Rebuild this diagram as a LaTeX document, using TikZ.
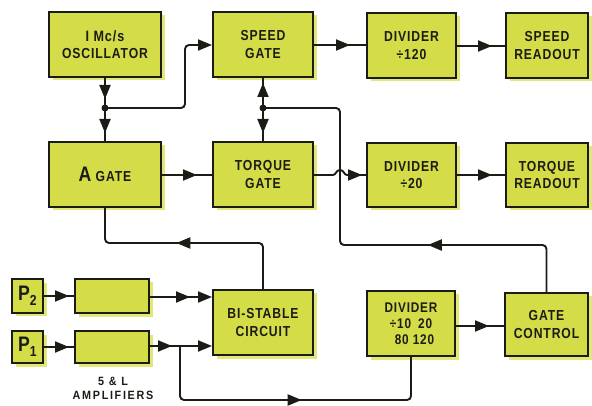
\documentclass[tikz,border=0pt]{standalone}
\usepackage{fontspec}
\setmainfont{Liberation Sans}
\newfontfamily\lblfont{Liberation Sans}[FakeStretch=0.84,LetterSpace=6]
\newfontfamily\ampfont{Liberation Sans}[FakeStretch=0.9,LetterSpace=14]
\usetikzlibrary{shadows,decorations.markings,arrows.meta}
\definecolor{boxcol}{RGB}{212,220,72}
\definecolor{shadcol}{RGB}{226,232,120}
\definecolor{inkcol}{RGB}{28,28,22}
\tikzset{
  blk/.style={draw=inkcol, line width=2pt, fill=boxcol, inner sep=0pt,
    drop shadow={shadow xshift=3.5pt, shadow yshift=-3.5pt, fill=shadcol, opacity=1},
    font=\lblfont\bfseries\fontsize{14.5}{17.5}\selectfont, text=inkcol, align=center},
  wire/.style={draw=inkcol, line width=1.9pt, rounded corners=4pt},
  tipat/.style={postaction={decorate, decoration={markings,
    mark=at position #1 with {\arrow{Triangle[length=14pt,width=11pt]}}}}},
  endtip/.style={-{Triangle[length=14pt,width=11pt]}},
  dot/.style={circle, fill=inkcol, inner sep=0pt, minimum size=7pt}
}
\begin{document}
\begin{tikzpicture}[x=1pt,y=-1pt]
\useasboundingbox (0,0) rectangle (592,406);
% top row
\node[blk, minimum width=112pt, minimum height=65pt] (osc) at (105,44.5) {{\fontsize{15}{17}\selectfont I M\lowercase{c/s}}\\OSCILLATOR};
\node[blk, minimum width=100pt, minimum height=65pt] (speed) at (263,44.5) {SPEED\\GATE};
\node[blk, minimum width=89pt, minimum height=65pt] (div1) at (411.5,45.5) {DIVIDER\\\char"00F7 120};
\node[blk, minimum width=82pt, minimum height=65pt] (sread) at (547,45.5) {SPEED\\READOUT};
% middle row
\node[blk, minimum width=112pt, minimum height=65pt] (agate) at (105,174.5) {{\fontsize{21}{22}\selectfont A} GATE};
\node[blk, minimum width=100pt, minimum height=65pt] (tgate) at (263,174.5) {TORQUE\\GATE};
\node[blk, minimum width=89pt, minimum height=64pt] (div2) at (411.5,175) {DIVIDER\\\char"00F7 20};
\node[blk, minimum width=82pt, minimum height=64pt] (tread) at (547,175) {TORQUE\\READOUT};
% bottom
\node[blk, minimum width=31pt, minimum height=33pt] (p2) at (27.5,296) {{\fontsize{21}{21}\selectfont P}\raisebox{-5pt}{2}};
\node[blk, minimum width=31pt, minimum height=32pt] (p1) at (27.5,347) {{\fontsize{21}{21}\selectfont P}\raisebox{-5pt}{1}};
\node[blk, minimum width=74pt, minimum height=34pt] (amp2) at (112,296) {};
\node[blk, minimum width=74pt, minimum height=32pt] (amp1) at (112,347) {};
\node[blk, minimum width=100pt, minimum height=65pt] (bist) at (263,322.5) {BI-STABLE\\CIRCUIT};
\node[blk, minimum width=88pt, minimum height=65pt, font=\lblfont\bfseries\fontsize{14}{16}\selectfont] (div3) at (411,323.5) {DIVIDER\\\char"00F7 10\enspace 20\\\enspace80 120};
\node[blk, minimum width=83pt, minimum height=63pt] (gctl) at (546.5,324.5) {GATE\\CONTROL};
\node[align=center, font=\ampfont\bfseries\fontsize{12}{14}\selectfont, text=inkcol] (amplbl) at (113,388) {5 \& L\\AMPLIFIERS};
% junctions
\coordinate (j1) at (105,108);
\coordinate (j2) at (263,108);
\coordinate (br) at (180,347);
% connectors
\draw[wire, tipat=21pt] (osc.south) -- (j1);
\draw[wire, tipat=25pt] (j1) -- (agate.north);
\draw[wire, endtip] (j1) -- (185,108) -- (185,45) -- (speed.west |- 0,45);
\draw[wire, tipat=25pt] (j2) -- (speed.south);
\draw[wire, tipat=25pt] (j2) -- (tgate.north);
\draw[wire, tipat=36pt] (speed.east |- 0,45) -- (div1.west |- 0,45);
\draw[wire, tipat=35pt] (div1.east |- 0,46) -- (sread.west |- 0,46);
\draw[wire, tipat=35pt] (agate.east |- 0,175) -- (tgate.west |- 0,175);
\draw[wire, rounded corners=0pt, tipat=0.93] (tgate.east |- 0,175) -- (333,175) .. controls (336,175) and (336,170) .. (340,170) .. controls (344,170) and (344,175) .. (347,175) -- (div2.west |- 0,175);
\draw[wire, tipat=35pt] (div2.east |- 0,175) -- (tread.west |- 0,175);
\draw[wire, tipat=131pt] (bist.north) -- (263,243) -- (105,243) -- (agate.south);
\draw[wire, tipat=164pt] (gctl.north) -- (gctl.north |- 0,245) -- (340,245) -- (340,108) -- (j2);
\draw[wire, tipat=25pt] (p2.east) -- (amp2.west);
\draw[wire, tipat=25pt] (p1.east) -- (amp1.west);
\draw[wire, endtip, tipat=40pt] (amp2.east |- 0,297) -- (bist.west |- 0,297);
\draw[wire, endtip, tipat=22pt] (amp1.east |- 0,346) -- (bist.west |- 0,346);
\draw[wire, tipat=174pt] (br |- 0,346) -- (180,400) -- (div3.south |- 0,400) -- (div3.south);
\draw[wire, tipat=33pt] (div3.east |- 0,326) -- (gctl.west |- 0,326);
\node[dot] (d1) at (j1) {};
\node[dot] (d2) at (j2) {};
\end{tikzpicture}
\end{document}
